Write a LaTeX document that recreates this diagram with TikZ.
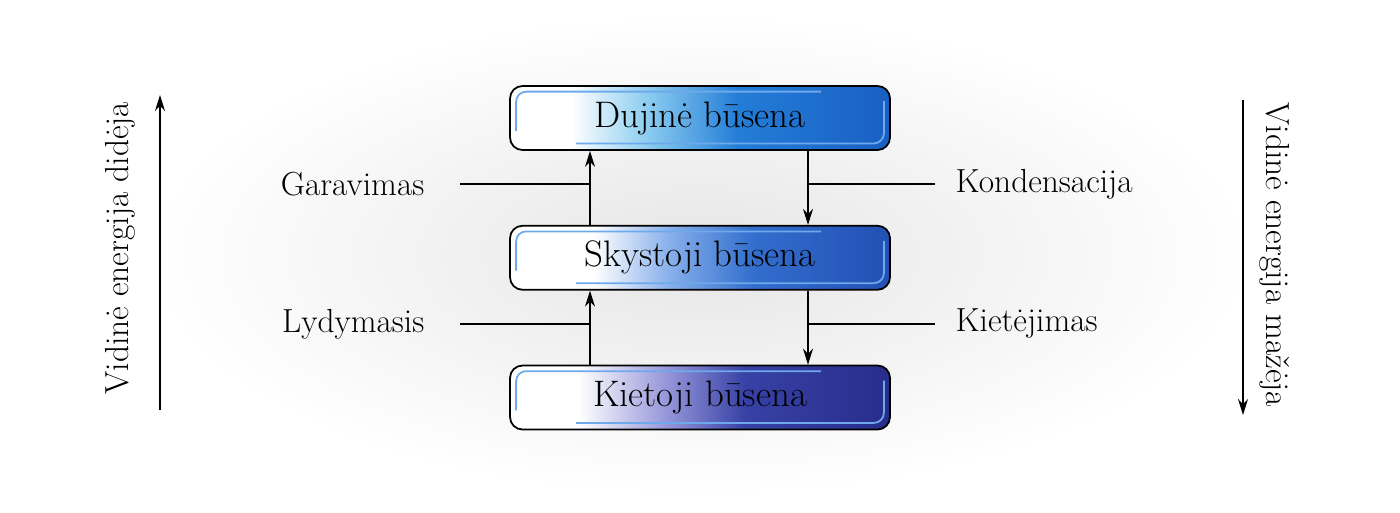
\documentclass[tikz,border=0pt]{standalone}
\usepackage{fontspec}
\usepackage{tikz}
\usetikzlibrary{arrows, arrows.meta, positioning}

\definecolor{gasmid}{RGB}{140,205,240}
\definecolor{gasblue}{RGB}{35,125,215}
\definecolor{gasdark}{RGB}{25,95,195}
\definecolor{liqmid}{RGB}{135,175,235}
\definecolor{liqblue}{RGB}{50,110,205}
\definecolor{liqdark}{RGB}{35,80,180}
\definecolor{solmid}{RGB}{155,155,220}
\definecolor{solblue}{RGB}{55,65,165}
\definecolor{soldark}{RGB}{40,45,140}
\definecolor{glossblue}{RGB}{110,170,235}

\pgfdeclarehorizontalshading{gasfill}{100bp}{color(0bp)=(white); color(33bp)=(white); color(43bp)=(gasmid); color(55bp)=(gasblue); color(75bp)=(gasdark); color(100bp)=(gasdark)}
\pgfdeclarehorizontalshading{liqfill}{100bp}{color(0bp)=(white); color(36bp)=(white); color(46bp)=(liqmid); color(57bp)=(liqblue); color(75bp)=(liqdark); color(100bp)=(liqdark)}
\pgfdeclarehorizontalshading{solfill}{100bp}{color(0bp)=(white); color(34bp)=(white); color(45bp)=(solmid); color(56bp)=(solblue); color(75bp)=(soldark); color(100bp)=(soldark)}

\begin{document}
\begin{tikzpicture}[->, >={Stealth[length=3.2mm, width=2mm]}, thick]
    \tikzstyle{state} = [draw, line width=1pt, rounded corners=0.25cm, minimum width=7.6cm, minimum height=1.28cm, text centered, font=\fontsize{21}{24}\selectfont, shade]
    \tikzstyle{lbl} = [inner sep=0pt, font=\fontsize{19}{22}\selectfont]
    \tikzstyle{gloss} = [-, draw=glossblue, line width=1pt, rounded corners=0.2cm]
    \useasboundingbox (0,0) rectangle (28,-10.24);
    \fill[white] (0,0) rectangle (28,-10.24);
    \shade[inner color=gray!20, outer color=white] (3,-0.3) rectangle (25,-9.9);
    \node [state, shading=gasfill] at (14,-2.36) (1) {Dujinė būsena};
    \node [state, shading=liqfill, below=1.48cm of 1] (2) {Skystoji būsena};
    \node [state, shading=solfill, below=1.48cm of 2] (3) {Kietoji būsena};
    % gloss on the boxes
    \draw[gloss] ([shift={(0.14cm,0.4cm)}]1.south west) -- ([shift={(0.14cm,-0.13cm)}]1.north west) -- ([shift={(-1.4cm,-0.13cm)}]1.north east);
    \draw[gloss] ([shift={(-0.14cm,-0.32cm)}]1.north east) -- ([shift={(-0.14cm,0.15cm)}]1.south east) -- ([shift={(1.34cm,0.15cm)}]1.south west);
    \draw[gloss] ([shift={(0.14cm,0.4cm)}]2.south west) -- ([shift={(0.14cm,-0.13cm)}]2.north west) -- ([shift={(-1.4cm,-0.13cm)}]2.north east);
    \draw[gloss] ([shift={(-0.14cm,-0.32cm)}]2.north east) -- ([shift={(-0.14cm,0.15cm)}]2.south east) -- ([shift={(1.34cm,0.15cm)}]2.south west);
    \draw[gloss] ([shift={(0.14cm,0.4cm)}]3.south west) -- ([shift={(0.14cm,-0.13cm)}]3.north west) -- ([shift={(-1.4cm,-0.13cm)}]3.north east);
    \draw[gloss] ([shift={(-0.14cm,-0.32cm)}]3.north east) -- ([shift={(-0.14cm,0.15cm)}]3.south east) -- ([shift={(1.34cm,0.15cm)}]3.south west);
    % transitions
    \draw ([xshift=-2.2cm]2.north) -- coordinate[pos=0.55] (m1) ([xshift=-2.2cm]1.south);
    \draw ([xshift=2.16cm]1.south) -- coordinate[pos=0.45] (m2) ([xshift=2.16cm]2.north);
    \draw ([xshift=-2.2cm]3.north) -- coordinate[pos=0.55] (m3) ([xshift=-2.2cm]2.south);
    \draw ([xshift=2.16cm]2.south) -- coordinate[pos=0.45] (m4) ([xshift=2.16cm]3.north);
    \node [lbl, left=3.3cm of m1] (4) {Garavimas};
    \node [lbl, right=2.94cm of m2] (5) {Kondensacija};
    \node [lbl, left=3.3cm of m3] (6) {Lydymasis};
    \node [lbl, right=2.94cm of m4] (7) {Kietėjimas};
    \draw[-] ([xshift=0.7cm]4.east) -- (m1);
    \draw[-] (m2) -- ([xshift=-0.4cm]5.west);
    \draw[-] ([xshift=0.7cm]6.east) -- (m3);
    \draw[-] (m4) -- ([xshift=-0.4cm]7.west);
    % energy
    \node [lbl, rotate=90] at (2.4,-4.96) (8) {Vidinė energija didėja};
    \node [lbl, rotate=-90] at (25.5,-5.1) (9) {Vidinė energija mažėja};
    \coordinate (up0) at (3.2,-8.2);
    \coordinate (up1) at (3.2,-1.9);
    \coordinate (dn0) at (24.86,-2.0);
    \coordinate (dn1) at (24.86,-8.3);
    \draw (up0) -- (up1);
    \draw (dn0) -- (dn1);
\end{tikzpicture}
\end{document}
